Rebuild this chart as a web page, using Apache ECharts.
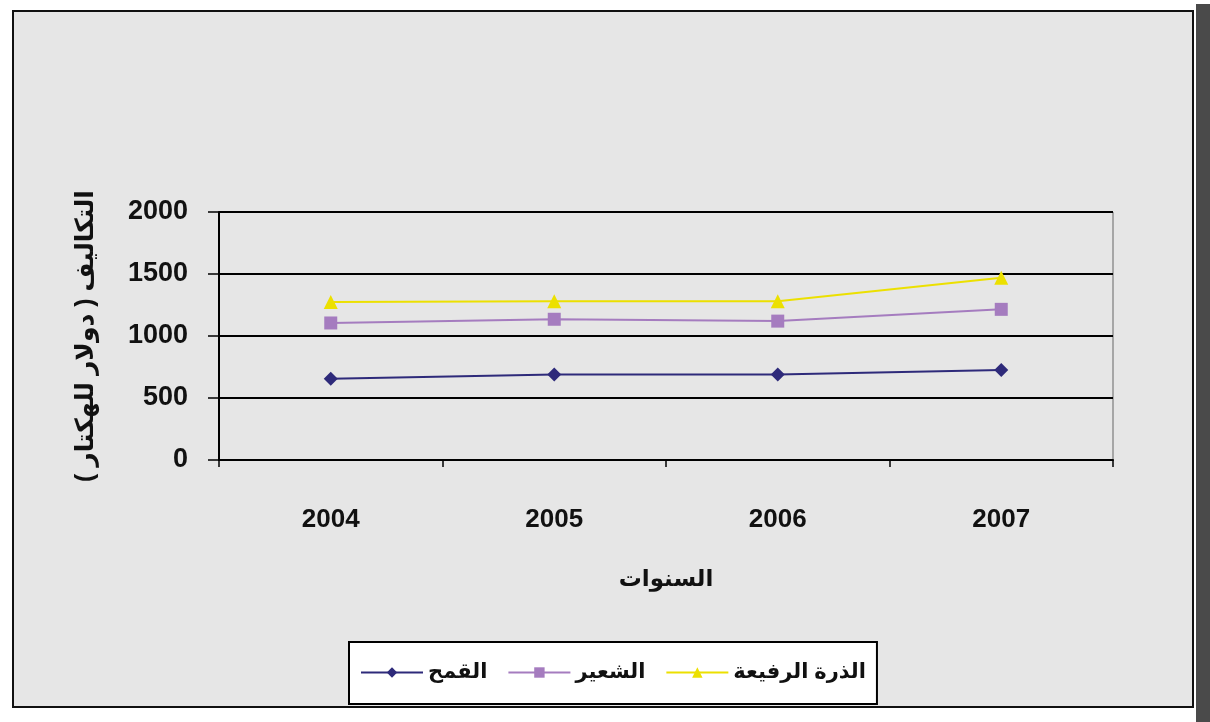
<!DOCTYPE html>
<html>
<head>
<meta charset="utf-8">
<script src="https://cdn.jsdelivr.net/npm/echarts@6/dist/echarts.min.js"></script>
<style>
  html, body { margin: 0; padding: 0; background: #ffffff; }
  #chart { width: 1210px; height: 722px; }
</style>
</head>
<body>
<div id="chart"></div>
<script>
// Production cost per hectare (USD) by crop and year
const years = ['2004', '2005', '2006', '2007'];
const wheatName = 'القمح';
const barleyName = 'الشعير';
const sorghumName = 'الذرة الرفيعة';
const wheat = [655, 690, 690, 725];
const barley = [1105, 1135, 1120, 1215];
const sorghum = [1275, 1280, 1280, 1470];
const yTicks = [0, 500, 1000, 1500, 2000];

const FONT = "'Liberation Sans', 'DejaVu Sans', sans-serif";

const chart = echarts.init(document.getElementById('chart'));

function lineSeries(name, data, color, symbol, size) {
  return {
    name: name,
    type: 'line',
    data: data,
    symbol: symbol,
    symbolSize: size,
    lineStyle: { color: color, width: 2 },
    itemStyle: { color: color },
    emphasis: { disabled: true }
  };
}

chart.setOption({
  animation: false,
  backgroundColor: '#ffffff',
  graphic: [
    // drop shadow along the right edge
    { type: 'rect', shape: { x: 1196, y: 4, width: 14, height: 718 }, style: { fill: '#4a4a4a' }, z: -10 },
    // chart area with light stone tone and black frame
    { type: 'rect', shape: { x: 13, y: 11, width: 1180, height: 696 },
      style: { fill: '#e6e6e6', stroke: '#111', lineWidth: 2 }, z: -9 }
  ],
  grid: { left: 219, right: 97, top: 212, bottom: 262, show: true, borderColor: '#666', borderWidth: 1 },
  xAxis: {
    type: 'category',
    data: years,
    boundaryGap: true,
    axisLine: { lineStyle: { color: '#000', width: 2 } },
    axisTick: { show: true, alignWithLabel: false, length: 7, lineStyle: { color: '#000', width: 1.5 } },
    axisLabel: { color: '#111', fontFamily: FONT, fontWeight: 'bold', fontSize: 26, margin: 47 },
    name: 'السنوات',
    nameLocation: 'middle',
    nameGap: 108,
    nameTextStyle: { color: '#111', fontFamily: FONT, fontSize: 23, fontWeight: 'bold' },
    splitLine: { show: false }
  },
  yAxis: {
    type: 'value',
    min: yTicks[0],
    max: yTicks[yTicks.length - 1],
    interval: 500,
    axisLine: { show: true, lineStyle: { color: '#000', width: 2 } },
    axisTick: { show: true, length: 11, lineStyle: { color: '#000', width: 1.5 } },
    axisLabel: {
      color: '#111', fontFamily: FONT, fontWeight: 'bold', fontSize: 27, margin: 31,
      formatter: function (v) { return String(v); }
    },
    splitLine: { show: true, lineStyle: { color: '#000', width: 2 } },
    name: 'التكاليف ( دولار للهكتار )',
    nameLocation: 'middle',
    nameRotate: 90,
    nameGap: 120,
    nameTextStyle: { color: '#111', fontFamily: FONT, fontSize: 25, fontWeight: 'bold' }
  },
  legend: {
    left: 349,
    top: 642,
    orient: 'horizontal',
    backgroundColor: '#ffffff',
    borderColor: '#000',
    borderWidth: 2,
    padding: [20, 11, 21, 11],
    itemWidth: 62,
    itemHeight: 13,
    itemGap: 20,
    textStyle: { color: '#111', fontFamily: FONT, fontSize: 21, fontWeight: 'bold' },
    data: [wheatName, barleyName, sorghumName]
  },
  series: [
    lineSeries(wheatName, wheat, '#2e2a7a', 'diamond', 14),
    lineSeries(barleyName, barley, '#a57cbf', 'rect', 13),
    lineSeries(sorghumName, sorghum, '#ece000', 'triangle', 14)
  ]
});
</script>
</body>
</html>
